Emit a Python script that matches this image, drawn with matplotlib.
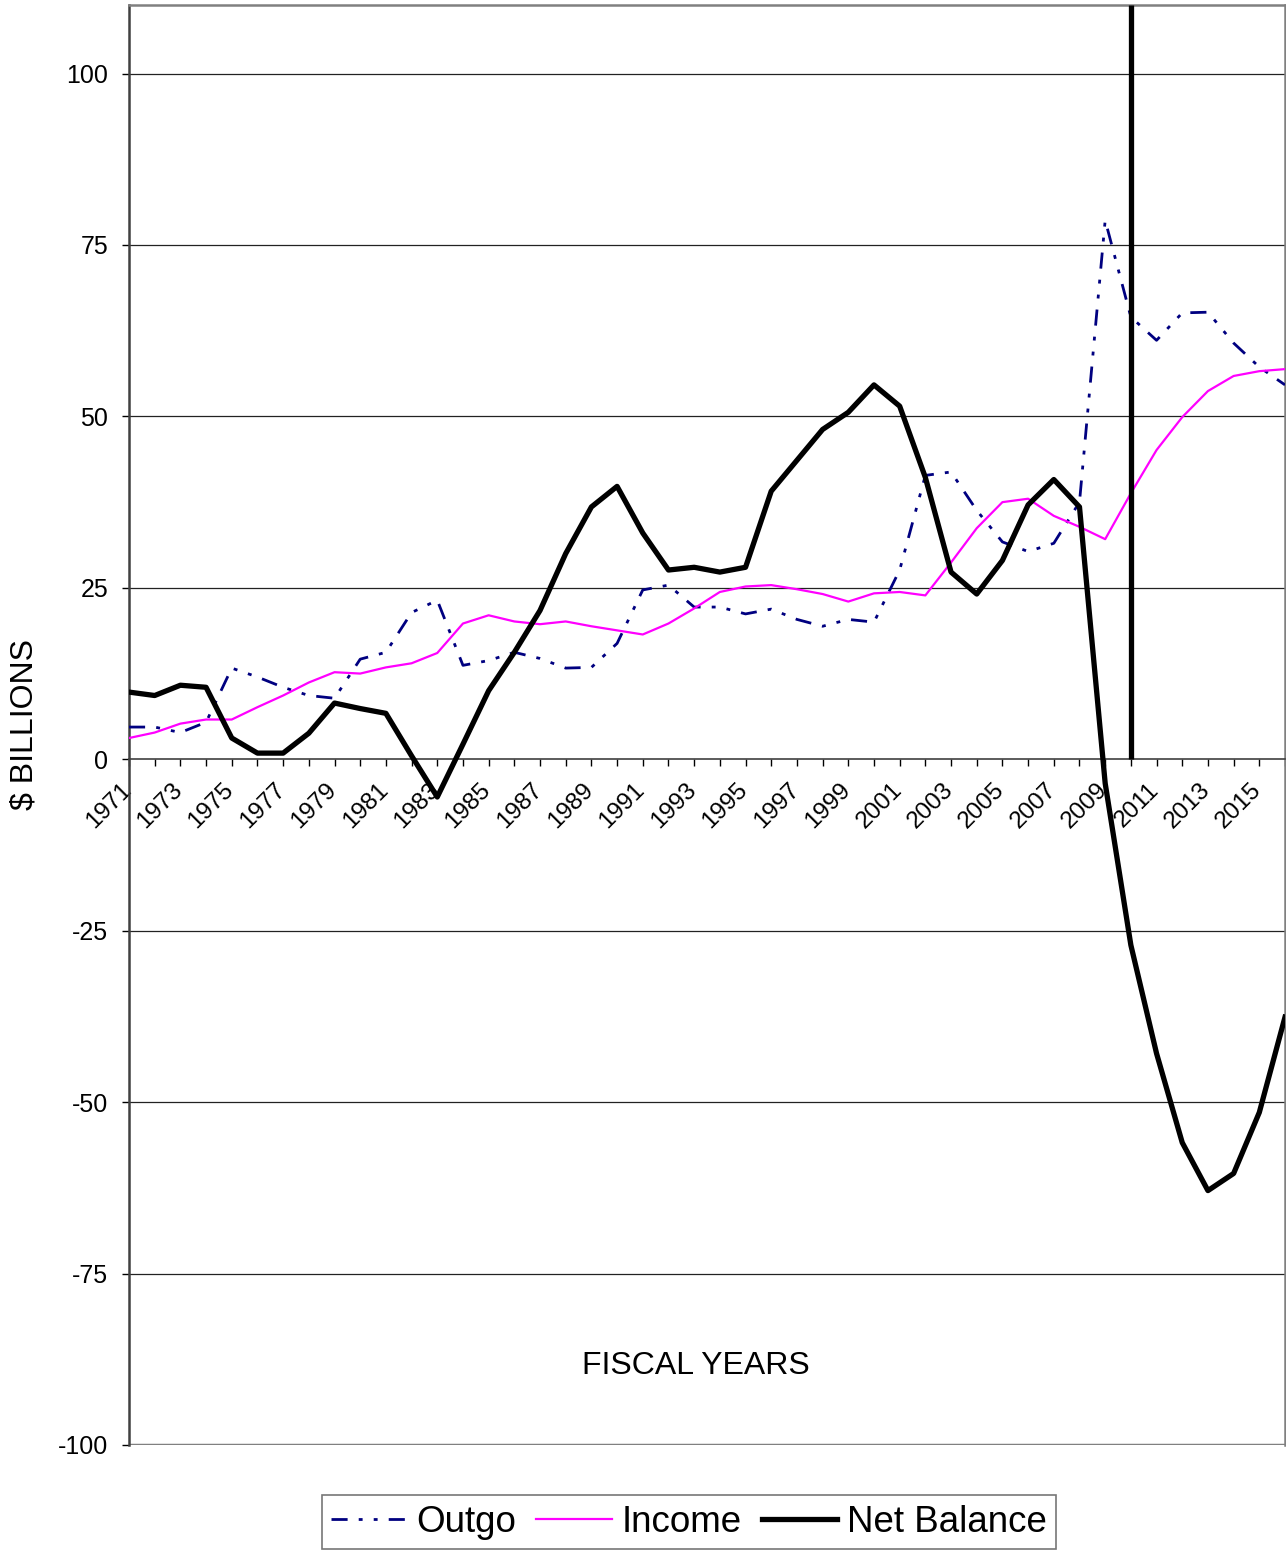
import numpy as np
import matplotlib.pyplot as plt
import matplotlib.transforms as mtransforms

plt.rcParams['font.family'] = ['Liberation Sans', 'DejaVu Sans']

years = np.arange(1971, 2017)

outgo = [4.7, 4.7, 3.9, 5.4, 13.3, 12.0, 10.5, 9.3, 8.9, 14.6,
         15.6, 21.4, 23.2, 13.7, 14.4, 15.6, 14.7, 13.3, 13.4, 16.9,
         24.7, 25.4, 22.2, 22.2, 21.2, 21.9, 20.4, 19.4, 20.4, 20.0,
         27.6, 41.4, 41.9, 36.3, 31.7, 30.3, 31.5, 37.5, 78.6, 64.5,
         61.1, 65.1, 65.2, 60.7, 57.2, 54.6]

income = [3.1, 3.9, 5.2, 5.8, 5.8, 7.6, 9.3, 11.2, 12.7, 12.5,
          13.4, 14.0, 15.5, 19.8, 21.0, 20.1, 19.7, 20.1, 19.4, 18.8,
          18.2, 19.8, 22.0, 24.4, 25.2, 25.4, 24.8, 24.1, 23.0, 24.2,
          24.4, 23.9, 28.7, 33.7, 37.5, 38.0, 35.5, 33.9, 32.1, 38.8,
          45.1, 49.9, 53.7, 55.9, 56.6, 56.9]

net_balance = [9.8, 9.3, 10.8, 10.5, 3.1, 0.9, 0.9, 3.8, 8.2, 7.4,
               6.7, 0.5, -5.5, 2.2, 10.0, 15.6, 21.7, 30.0, 36.8, 39.8,
               33.0, 27.6, 28.0, 27.3, 28.0, 39.1, 43.6, 48.1, 50.6, 54.6,
               51.5, 41.1, 27.3, 24.1, 29.0, 37.1, 40.8, 36.8, -3.5, -27.1,
               -42.9, -55.9, -62.9, -60.4, -51.5, -37.6]

marker_year = 2010
y_ticks = [-100, -75, -50, -25, 0, 25, 50, 75, 100]

fig = plt.figure(figsize=(12.86, 15.5), dpi=100)
ax = fig.add_axes([129/1286, 1 - 1445/1550, (1285 - 129)/1286, (1445 - 5)/1550])

# gridlines
for v in y_ticks[1:]:
    if v != 0:
        ax.axhline(v, color='#222222', lw=0.9, zorder=1)

ax.plot(years, outgo, color='#000080', lw=2.0,
        linestyle=(0, (5.8, 4.0, 1.4, 4.0, 1.4, 4.0)), label='Outgo', zorder=3)
ax.plot(years, income, color='#FF00FF', lw=1.6, label='Income', zorder=3)
ax.plot(years, net_balance, color='black', lw=3.8, label='Net Balance', zorder=4)
ax.vlines(marker_year, 0, 110, color='black', lw=3.8, zorder=5)

ax.set_xlim(1971, 2016)
ax.set_ylim(-100, 110)

for s in ['top', 'right']:
    ax.spines[s].set_color('#808080')
    ax.spines[s].set_linewidth(1.8)
ax.spines['left'].set_color('#404040')
ax.spines['left'].set_linewidth(1.8)
ax.spines['bottom'].set_position(('data', 0))
ax.spines['bottom'].set_color('#404040')
ax.spines['bottom'].set_linewidth(1.2)
ax.axhline(-100, color='#808080', lw=2.5, zorder=2)

ax.set_yticks(y_ticks)
ax.set_yticklabels([str(v) for v in y_ticks])
ax.tick_params(axis='y', direction='out', length=5, width=1, labelsize=18, pad=10)

ax.set_xticks(years[::2])
ax.set_xticks(years, minor=True)
ax.set_xticklabels([str(y) for y in years[::2]], rotation=45, ha='right',
                   va='top', rotation_mode='anchor', fontsize=17.5)
ax.tick_params(axis='x', which='both', direction='out', length=5, width=1, pad=9)
shift = mtransforms.ScaledTranslation(-9/100, 0, fig.dpi_scale_trans)
for lab in ax.get_xticklabels():
    lab.set_transform(lab.get_transform() + shift)

ax.text(0.49, 0.055, 'FISCAL YEARS', transform=ax.transAxes, ha='center',
        va='center', fontsize=23)
fig.text(25/1286, 1 - 725/1550, '$ BILLIONS', rotation=90, ha='center',
         va='center', fontsize=23)

leg = fig.legend(loc='center', bbox_to_anchor=(689/1286, 1 - 1522/1550), ncol=3,
                 fontsize=26.5, frameon=True, fancybox=False, edgecolor='#555555',
                 handlelength=2.05, handletextpad=0.27, columnspacing=0.55,
                 borderpad=0.25)
leg.get_frame().set_linewidth(1.2)

fig.savefig('out.png', dpi=100)
